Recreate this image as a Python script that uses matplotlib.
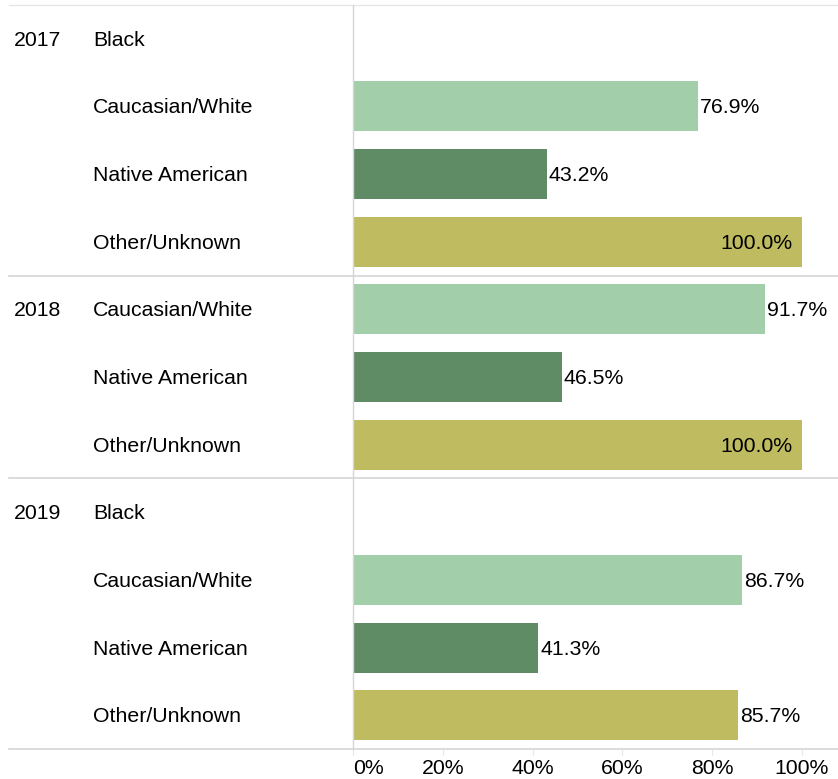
import matplotlib
matplotlib.use("Agg")
import matplotlib.pyplot as plt
import matplotlib.transforms as mtransforms
import numpy as np

plt.rcParams['font.family'] = ['Liberation Sans', 'DejaVu Sans']

years = ["2017", "2018", "2019"]
year_races = [
    ["Black", "Caucasian/White", "Native American", "Other/Unknown"],
    ["Caucasian/White", "Native American", "Other/Unknown"],
    ["Black", "Caucasian/White", "Native American", "Other/Unknown"],
]
year_values = [
    [np.nan, 76.9, 43.2, 100.0],
    [91.7, 46.5, 100.0],
    [np.nan, 86.7, 41.3, 85.7],
]
race_colors = {
    "Black": "#4e7a55",
    "Caucasian/White": "#a2ceaa",
    "Native American": "#5f8b65",
    "Other/Unknown": "#bfbb60",
}
ticks = [0, 20, 40, 60, 80, 100]

W, H = 838, 779
fig = plt.figure(figsize=(W / 100, H / 100), dpi=100)
x0, x1, ytop, ybot = 353, 838, 5, 749
ax = fig.add_axes([x0 / W, (H - ybot) / H, (x1 - x0) / W, (ybot - ytop) / H])

n_rows = sum(len(r) for r in year_races)
px_per_unit = (802 - x0) / 100.0
ax.set_xlim(0, (x1 - x0) / px_per_unit)
ax.set_ylim(n_rows - 0.5, -0.5)

fs = 15.3
grey = "#d6d6d6"
shift = mtransforms.ScaledTranslation(0, -1.5 / 100, fig.dpi_scale_trans)
fig_x = mtransforms.blended_transform_factory(fig.transFigure, ax.transData) + shift
dat = ax.transData + shift

row = 0
for yi, (yr, races, vals) in enumerate(zip(years, year_races, year_values)):
    ax.text(14 / W, row, yr, transform=fig_x, fontsize=fs, va="center", ha="left")
    for race, v in zip(races, vals):
        ax.text(93 / W, row, race, transform=fig_x, fontsize=fs, va="center", ha="left")
        if not np.isnan(v):
            ax.barh(row, v, height=0.74, color=race_colors[race], zorder=2)
            if v >= 95:
                ax.text(v - 9 / px_per_unit, row, f"{v:.1f}%", fontsize=fs,
                        va="center", ha="right", zorder=3, transform=dat)
            else:
                ax.text(v + 2 / px_per_unit, row, f"{v:.1f}%", fontsize=fs,
                        va="center", ha="left", zorder=3, transform=dat)
        row += 1
    # separator line under each year block
    xmin = (9 - x0) / (x1 - x0)
    ax.axhline(row - 0.5, xmin=xmin, xmax=1, color=grey, lw=1.2, clip_on=False, zorder=1)

ax.axhline(-0.5, xmin=(9 - x0) / (x1 - x0), xmax=1, color="#e6e6e6", lw=1.0,
           clip_on=False, zorder=1)

for s in ["top", "right", "bottom"]:
    ax.spines[s].set_visible(False)
ax.spines["left"].set_color(grey)
ax.spines["left"].set_linewidth(1.0)
ax.set_yticks([])
ax.set_xticks(ticks)
ax.set_xticklabels([f"{t}%" for t in ticks], fontsize=fs)
ax.tick_params(axis="x", length=4, color="#e6e6e6", pad=3)
ax.get_xticklabels()[0].set_horizontalalignment("left")

fig.savefig("out.png", dpi=100)
